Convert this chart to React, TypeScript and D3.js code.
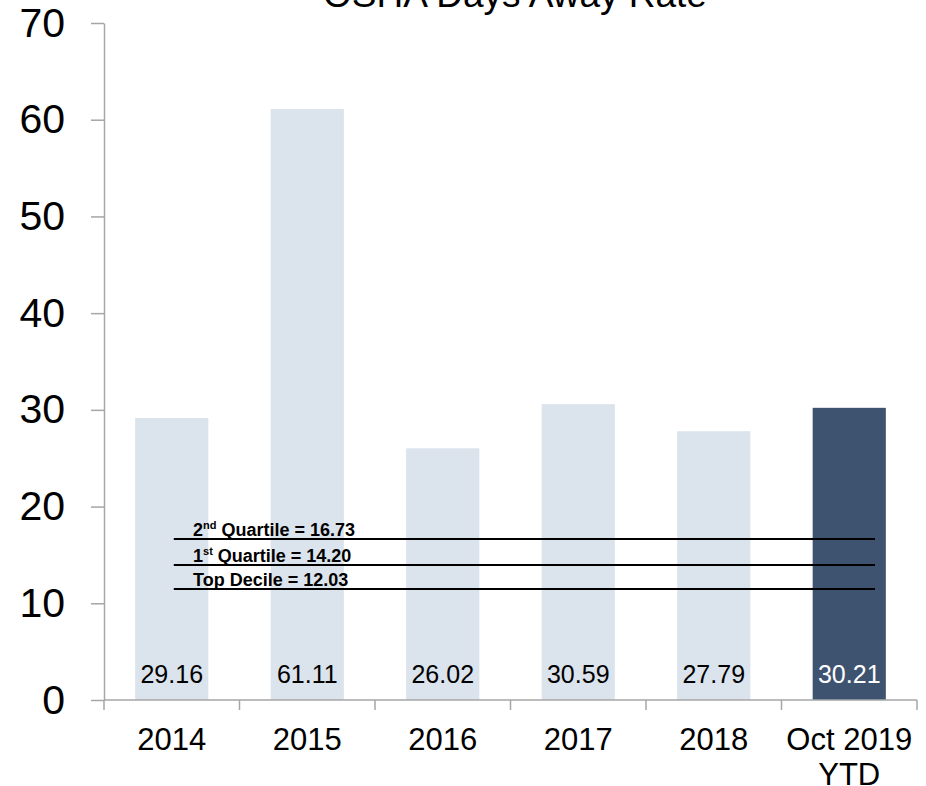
import { useEffect, useRef } from "react";
import * as d3 from "d3";

const C = {
  bar: "#dbe3ec", barLast: "#3e5370", axis: "#a6a6a6",
  text: "#000000", white: "#ffffff", line: "#000000",
};

const FONT = "'Liberation Sans', Arial, Helvetica, sans-serif";

// data
const CATEGORIES = ["2014", "2015", "2016", "2017", "2018", "Oct 2019 YTD"];
const RATES = [29.16, 61.11, 26.02, 30.59, 27.79, 30.21];
const Y_TICKS = [0, 10, 20, 30, 40, 50, 60, 70];

// benchmark lines: where they are drawn, and what their labels say
const BENCH_LEVELS = [16.65, 13.96, 11.48];
const BENCH_ORD = ["2", "1", ""];
const BENCH_SUP = ["nd", "st", ""];
const BENCH_NAMES = [" Quartile = 16.73", " Quartile = 14.20", "Top Decile = 12.03"];

const W = 926, H = 786;
const X0 = 104, X1 = 917, Y0 = 700, Y1 = 23;

export default function App() {
  const svgRef = useRef<SVGSVGElement | null>(null);

  useEffect(() => {
    const svg = d3.select(svgRef.current);
    svg.selectAll("*").remove();

    const x = d3.scaleBand<string>().domain(CATEGORIES).range([X0, X1]).padding(0);
    const y = d3.scaleLinear().domain([0, 70]).range([Y0, Y1]);
    const bw = x.bandwidth() * 0.54;

    // title (cut off at the top, as in the source)
    svg.append("text").attr("x", 515).attr("y", 7)
      .attr("text-anchor", "middle").attr("font-family", FONT)
      .attr("font-size", 37).attr("fill", C.text).text("OSHA Days Away Rate");

    // bars
    svg.append("g").selectAll("rect")
      .data(RATES).join("rect")
      .attr("x", (_, i) => x(CATEGORIES[i])! + (x.bandwidth() - bw) / 2)
      .attr("y", d => y(d))
      .attr("width", bw)
      .attr("height", d => y(0) - y(d))
      .attr("fill", (_, i) => i === RATES.length - 1 ? C.barLast : C.bar);

    // value labels inside bars, near the base
    svg.append("g").selectAll("text")
      .data(RATES).join("text")
      .attr("x", (_, i) => x(CATEGORIES[i])! + x.bandwidth() / 2)
      .attr("y", 683)
      .attr("text-anchor", "middle").attr("font-family", FONT).attr("font-size", 25)
      .attr("fill", (_, i) => i === RATES.length - 1 ? C.white : C.text)
      .text(d => d.toFixed(2));

    // y axis
    const yAxis = svg.append("g").attr("transform", `translate(${X0},0)`)
      .call(d3.axisLeft(y).tickValues(Y_TICKS).tickSize(13).tickPadding(26).tickSizeOuter(0));
    yAxis.select(".domain").attr("stroke", C.axis).attr("stroke-width", 1.5);
    yAxis.selectAll(".tick line").attr("stroke", C.axis).attr("stroke-width", 1.5);
    yAxis.selectAll("text").attr("font-family", FONT).attr("font-size", 41).attr("fill", C.text);

    // x axis: ticks on band edges
    const xg = svg.append("g");
    xg.append("line").attr("x1", X0).attr("x2", X1).attr("y1", Y0).attr("y2", Y0)
      .attr("stroke", C.axis).attr("stroke-width", 1.5);
    const edges = CATEGORIES.map(c => x(c)!).concat([X1]);
    xg.selectAll(".edge").data(edges).join("line").attr("class", "edge")
      .attr("x1", d => d).attr("x2", d => d).attr("y1", Y0).attr("y2", Y0 + 10)
      .attr("stroke", C.axis).attr("stroke-width", 1.5);

    const labels = xg.selectAll(".xl").data(CATEGORIES).join("text").attr("class", "xl")
      .attr("text-anchor", "middle").attr("font-family", FONT).attr("font-size", 31)
      .attr("fill", C.text);
    labels.each(function (d) {
      const t = d3.select(this);
      const cx = x(d)! + x.bandwidth() / 2;
      const parts = d === "Oct 2019 YTD" ? ["Oct 2019", "YTD"] : [d];
      parts.forEach((p, k) => {
        t.append("tspan").attr("x", cx).attr("y", 750 + k * 35).text(p);
      });
    });

    // benchmark lines
    const lx1 = x(CATEGORIES[0])! + x.bandwidth() * 0.515;
    const lx2 = x(CATEGORIES[5])! + x.bandwidth() * 0.69;
    const bg = svg.append("g");
    BENCH_LEVELS.forEach((v, i) => {
      bg.append("line").attr("x1", lx1).attr("x2", lx2).attr("y1", y(v)).attr("y2", y(v))
        .attr("stroke", C.line).attr("stroke-width", 2);
      const t = bg.append("text").attr("x", 193).attr("y", y(v) - 3)
        .attr("font-family", FONT).attr("font-size", 18).attr("font-weight", "bold")
        .attr("fill", C.text);
      if (BENCH_ORD[i]) {
        t.append("tspan").text(BENCH_ORD[i]);
        t.append("tspan").attr("font-size", 11).attr("dy", -7).text(BENCH_SUP[i]);
        t.append("tspan").attr("dy", 7).text(BENCH_NAMES[i]);
      } else {
        t.append("tspan").text(BENCH_NAMES[i]);
      }
    });
  }, []);

  return (
    <div style={{ position: "absolute", left: 0, top: 0, width: W, height: H, background: "#fff" }}>
      <svg ref={svgRef} width={W} height={H} style={{ display: "block" }} />
    </div>
  );
}
